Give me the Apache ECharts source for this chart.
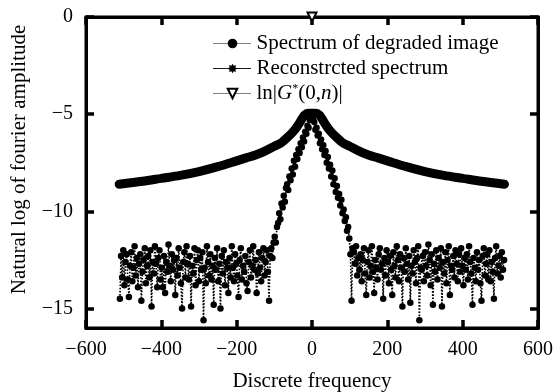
<!DOCTYPE html>
<html>
<head>
<meta charset="utf-8">
<script src="https://cdn.jsdelivr.net/npm/echarts@6/dist/echarts.min.js"></script>
<style>
  html, body { margin: 0; padding: 0; background: #fff; }
  #chart { width: 559px; height: 392px; }
</style>
</head>
<body>
<div id="chart"></div>
<script>
// 退化图像频谱：离散频率
const degradedN = [
  -510, -507, -504, -501, -498, -495, -492, -489, -486, -483,
  -480, -477, -474, -471, -468, -465, -462, -459, -456, -453,
  -450, -447, -444, -441, -438, -435, -432, -429, -426, -423,
  -420, -417, -414, -411, -408, -405, -402, -399, -396, -393,
  -390, -387, -384, -381, -378, -375, -372, -369, -366, -363,
  -360, -357, -354, -351, -348, -345, -342, -339, -336, -333,
  -330, -327, -324, -321, -318, -315, -312, -309, -306, -303,
  -300, -297, -294, -291, -288, -285, -282, -279, -276, -273,
  -270, -267, -264, -261, -258, -255, -252, -249, -246, -243,
  -240, -237, -234, -231, -228, -225, -222, -219, -216, -213,
  -210, -207, -204, -201, -198, -195, -192, -189, -186, -183,
  -180, -177, -174, -171, -168, -165, -162, -159, -156, -153,
  -150, -147, -144, -141, -138, -135, -132, -129, -126, -123,
  -120, -117, -114, -111,
  -108, -105, -102, -99, -96, -93, -90, -87, -84, -81,
  -78, -75, -72, -69, -66, -63, -60, -57, -54, -51,
  -48, -45, -42, -39, -36, -33, -30, -27, -24, -21,
  -18, -15, -12, -9, -6, -3, 0, 3, 6, 9,
  12, 15, 18, 21, 24, 27, 30, 33, 36, 39,
  42, 45, 48, 51, 54, 57, 60, 63, 66, 69,
  72, 75, 78, 81, 84, 87, 90, 93, 96, 99,
  102, 105, 108,
  111, 114, 117, 120, 123, 126, 129, 132, 135, 138,
  141, 144, 147, 150, 153, 156, 159, 162, 165, 168,
  171, 174, 177, 180, 183, 186, 189, 192, 195, 198,
  201, 204, 207, 210, 213, 216, 219, 222, 225, 228,
  231, 234, 237, 240, 243, 246, 249, 252, 255, 258,
  261, 264, 267, 270, 273, 276, 279, 282, 285, 288,
  291, 294, 297, 300, 303, 306, 309, 312, 315, 318,
  321, 324, 327, 330, 333, 336, 339, 342, 345, 348,
  351, 354, 357, 360, 363, 366, 369, 372, 375, 378,
  381, 384, 387, 390, 393, 396, 399, 402, 405, 408,
  411, 414, 417, 420, 423, 426, 429, 432, 435, 438,
  441, 444, 447, 450, 453, 456, 459, 462, 465, 468,
  471, 474, 477, 480, 483, 486, 489, 492, 495, 498,
  501, 504, 507, 510
]
// 退化图像频谱：幅值自然对数
const degradedV = [
  // -510 .. -111
  -14.5, -12.3, -13.4, -12.0, -13.8, -12.6, -12.2, -13.5, -14.4, -12.8,
  -12.1, -13.6, -12.9, -11.8, -13.3, -12.4, -13.9, -12.7, -12.2, -14.6,
  -13.1, -12.5, -11.9, -13.7, -12.8, -12.3, -13.4, -12.0, -14.9, -12.6,
  -13.2, -11.8, -12.7, -13.9, -12.4, -12.0, -13.5, -12.9, -13.9, -12.3,
  -14.2, -12.6, -13.1, -11.7, -12.8, -13.6, -12.2, -13.0, -12.5, -14.3,
  -12.4, -13.3, -11.9, -12.9, -13.7, -15.0, -12.6, -12.1, -13.4, -11.8,
  -12.7, -13.5, -12.3, -14.9, -12.8, -13.2, -11.9, -13.8, -12.5, -12.0,
  -13.6, -12.4, -13.0, -12.1, -15.6, -12.9, -13.7, -11.8, -12.6, -13.3,
  -12.2, -13.5, -12.8, -14.8, -12.4, -13.0, -11.9, -13.6, -12.7, -15.0,
  -12.3, -13.2, -12.0, -13.8, -12.6, -12.9, -14.2, -12.4, -13.4, -11.8,
  -12.9, -13.6, -12.2, -12.7, -13.3, -14.4, -12.5, -11.9, -13.5, -12.8,
  -13.1, -12.3, -13.7, -14.1, -12.6, -12.0, -13.4, -12.8, -11.8, -13.0,
  -12.5, -14.2, -13.2, -12.1, -12.9, -13.6, -12.4, -11.9, -13.3, -12.6,
  -12.0, -13.1, -14.6, -12.3,
  // -108 .. 108
  -11.9, -12.4, -11.6, -11.3, -11.6, -10.8, -10.6, -10.1, -10.4, -9.6,
  -9.8, -9.2, -9.5, -8.8, -8.6, -8.9, -8.2, -8.4, -7.8, -8.1,
  -7.4, -7.7, -7.1, -7.3, -6.8, -7.0, -6.5, -6.7, -6.2, -6.4,
  -5.9, -6.0, -5.6, -5.7, -5.3, -5.2, -5.0, -5.3, -5.4, -5.8,
  -5.7, -6.1, -6.0, -6.5, -6.3, -6.8, -6.6, -7.1, -6.9, -7.5,
  -7.2, -7.8, -7.6, -8.2, -7.9, -8.6, -8.3, -9.0, -8.7, -9.3,
  -9.1, -9.7, -9.4, -10.1, -9.9, -10.5, -10.3, -11.0, -10.8, -11.4,
  -12.2, -14.6, -11.9,
  // 111 .. 510
  -12.1, -12.7, -11.8, -13.3, -12.4, -13.0, -12.2, -13.6, -12.5, -11.9,
  -13.2, -14.3, -12.6, -12.0, -13.4, -12.8, -11.8, -13.1, -14.2, -12.5,
  -12.9, -13.5, -12.2, -11.9, -13.0, -12.7, -14.5, -12.4, -13.3, -12.0,
  -12.6, -13.7, -12.3, -13.0, -14.3, -12.1, -12.8, -13.4, -11.8, -12.5,
  -13.6, -12.2, -12.9, -14.9, -12.4, -13.1, -11.9, -12.7, -13.5, -12.3,
  -14.7, -12.8, -13.2, -12.0, -12.6, -13.7, -12.4, -11.8, -15.6, -12.9,
  -13.0, -12.3, -13.6, -12.1, -12.8, -13.3, -11.7, -12.5, -13.8, -12.2,
  -14.8, -12.7, -13.1, -12.0, -13.5, -12.4, -12.9, -11.9, -14.9, -12.6,
  -13.2, -12.1, -13.7, -12.5, -11.8, -14.3, -12.8, -13.0, -12.3, -13.4,
  -12.0, -12.7, -13.6, -12.2, -13.1, -11.9, -12.8, -13.8, -12.4, -13.0,
  -12.2, -13.5, -11.8, -12.6, -13.2, -14.8, -12.4, -12.9, -13.6, -12.1,
  -13.0, -12.5, -13.7, -14.6, -12.3, -11.9, -13.3, -12.7, -12.2, -13.5,
  -12.0, -13.6, -12.6, -13.1, -14.5, -12.4, -11.8, -13.2, -12.8, -12.3,
  -13.4, -12.1, -13.0, -12.5
]

// 重建频谱
const reconN = [
  -512, -450, -400, -350, -300, -250, -200, -175, -150, -125,
  -100, -80, -60, -50, -40, -30, -20, -10, 0, 10,
  20, 30, 40, 50, 60, 80, 100, 125, 150, 175,
  200, 250, 300, 350, 400, 450, 511
]
const reconV = [
  -8.6, -8.45, -8.3, -8.15, -7.95, -7.7, -7.4, -7.25, -7.1, -6.9,
  -6.65, -6.45, -6.1, -5.9, -5.65, -5.35, -5.05, -4.95, -4.95, -4.95,
  -5.05, -5.35, -5.65, -5.9, -6.1, -6.45, -6.65, -6.9, -7.1, -7.25,
  -7.4, -7.7, -7.95, -8.15, -8.3, -8.45, -8.6
]

// ln|G*(0,n)|
const gN = [0]
const gV = [0]

const seriesNames = ['Spectrum of degraded image', 'Reconstrcted spectrum', 'ln|G*(0,n)|']
const yTicks = [-15, -10, -5, 0]

const FONT = 'Liberation Serif'
const minus = v => String(v).replace('-', '\u2212')
const zip = (xs, ys) => xs.map((x, i) => [x, ys[i]])

const starPath = 'path://M100,50 L79.6,62.3 L85.4,85.4 L62.3,79.6 L50,100 L37.7,79.6 L14.6,85.4 L20.4,62.3 L0,50 L20.4,37.7 L14.6,14.6 L37.7,20.4 L50,0 L62.3,20.4 L85.4,14.6 L79.6,37.7 Z'

const chart = echarts.init(document.getElementById('chart'))

// 刻度朝内，粗线
const tickStyle = () => ({ show: true, inside: true, length: 8, lineStyle: { color: '#000', width: 3.5 } })
const axisLineStyle = () => ({ show: true, onZero: false, lineStyle: { color: '#000', width: 3 } })

const option = {
  animation: false,
  grid: {
    left: 86, right: 21, top: 17, bottom: 64,
    outerBoundsMode: 'none',
    containLabel: false,
    // 外框
    show: true, borderColor: '#000', borderWidth: 3
  },
  legend: {
    orient: 'vertical',
    left: 208,
    top: 28,
    itemWidth: 38,
    itemHeight: 12,
    itemGap: 4,
    textStyle: {
      fontFamily: FONT, fontSize: 21, color: '#000', lineHeight: 21,
      rich: {
        i: { fontFamily: FONT, fontSize: 21, fontStyle: 'italic', lineHeight: 21 },
        sup: { fontFamily: FONT, fontSize: 12, lineHeight: 12, verticalAlign: 'top' }
      }
    },
    formatter: name => name === seriesNames[2] ? 'ln|{i|G}{sup|*}(0,{i|n})|' : name,
    data: [
      { name: seriesNames[0], lineStyle: { width: 1, type: 'dotted', color: '#000' } },
      { name: seriesNames[1], lineStyle: { width: 1, type: 'dotted', color: '#000' } },
      { name: seriesNames[2], lineStyle: { width: 1, type: 'dotted', color: '#000' } }
    ]
  },
  xAxis: [
    {
      type: 'value', min: -600, max: 600, interval: 200,
      name: 'Discrete frequency', nameLocation: 'middle', nameGap: 43,
      nameTextStyle: { fontFamily: FONT, fontSize: 21, color: '#000' },
      axisLabel: { fontFamily: FONT, fontSize: 20, color: '#000', margin: 12, formatter: minus },
      axisLine: axisLineStyle(),
      axisTick: tickStyle(),
      splitLine: { show: false }
    },
    {
      type: 'value', min: -600, max: 600, interval: 200, position: 'top',
      axisLabel: { show: false },
      axisLine: axisLineStyle(),
      axisTick: tickStyle(),
      splitLine: { show: false }
    }
  ],
  yAxis: [
    {
      type: 'value', min: -16, max: 0,
      name: 'Natural log of fourier amplitude', nameLocation: 'middle', nameGap: 56,
      nameTextStyle: { fontFamily: FONT, fontSize: 21, color: '#000', padding: [0, 0, 0, 26] },
      axisLabel: { fontFamily: FONT, fontSize: 20, color: '#000', margin: 13, formatter: minus, customValues: yTicks },
      axisLine: axisLineStyle(),
      axisTick: Object.assign(tickStyle(), { customValues: yTicks }),
      splitLine: { show: false }
    },
    {
      type: 'value', min: -16, max: 0, position: 'right',
      axisLabel: { show: false, customValues: yTicks },
      axisLine: axisLineStyle(),
      axisTick: Object.assign(tickStyle(), { customValues: yTicks }),
      splitLine: { show: false }
    }
  ],
  series: [
    {
      name: seriesNames[0],
      type: 'line',
      data: zip(degradedN, degradedV),
      symbol: 'circle',
      symbolSize: 6.5,
      itemStyle: { color: '#000' },
      lineStyle: { color: '#000', width: 1.6, type: 'dotted' },
      z: 2
    },
    {
      name: seriesNames[1],
      type: 'line',
      data: zip(reconN, reconV),
      smooth: 0.3,
      symbol: starPath,
      symbolSize: 9,
      showSymbol: false,
      itemStyle: { color: '#000' },
      lineStyle: { color: '#000', width: 9, cap: 'round', join: 'round' },
      z: 3
    },
    {
      name: seriesNames[2],
      type: 'line',
      data: zip(gN, gV),
      symbol: 'emptyTriangle',
      symbolRotate: 180,
      symbolSize: 9,
      clip: false,
      itemStyle: { color: '#000', borderWidth: 2 },
      lineStyle: { color: '#000', width: 1, type: 'dotted' },
      z: 4
    }
  ]
}

chart.setOption(option)
</script>
</body>
</html>
